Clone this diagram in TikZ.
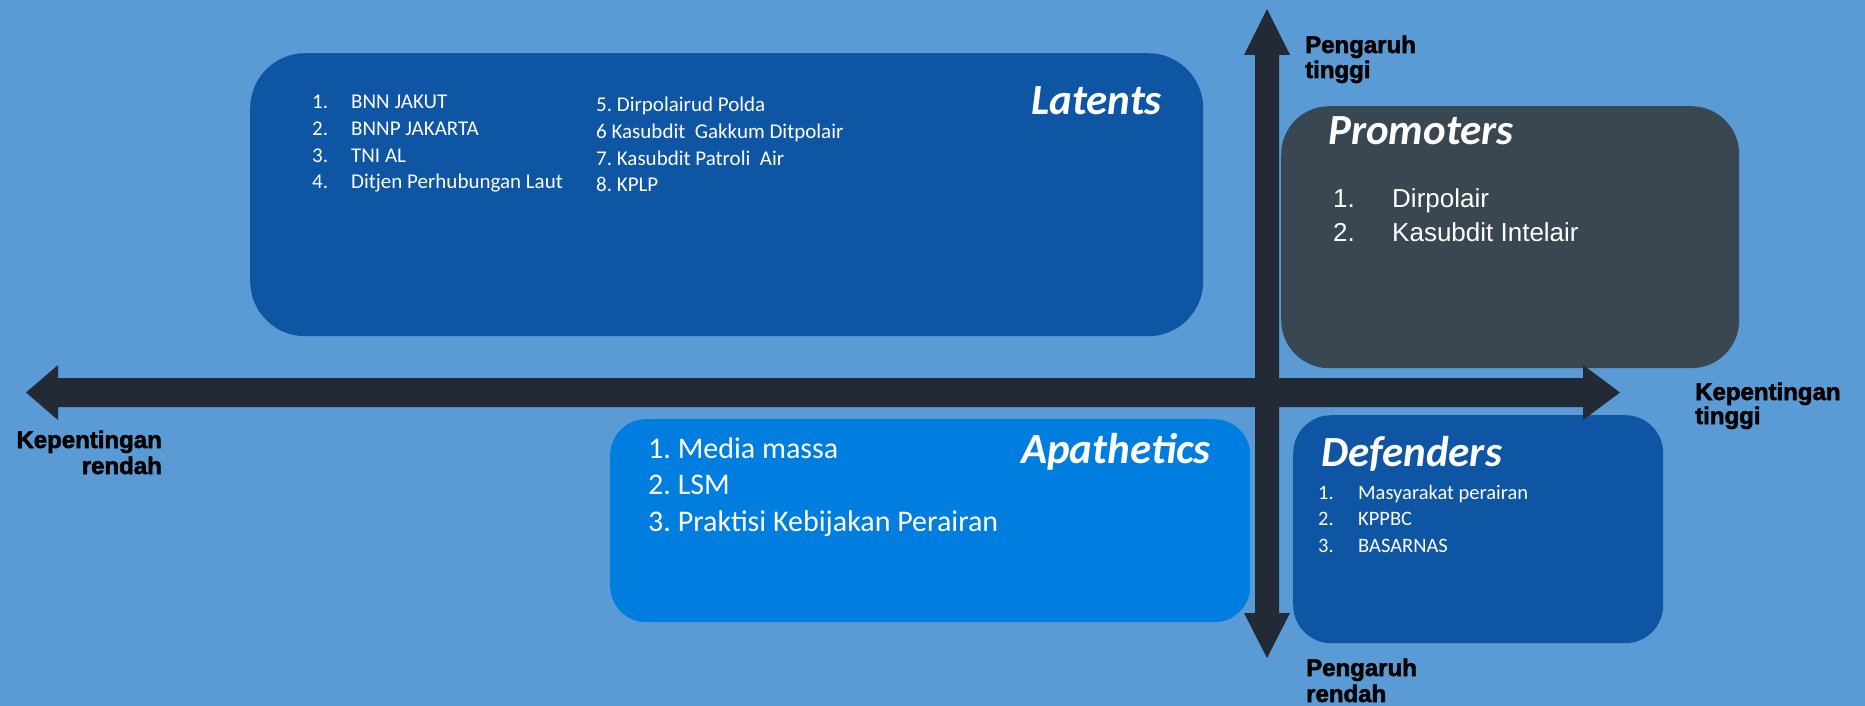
\documentclass[tikz,border=0pt]{standalone}
\usepackage{fontspec}
\setmainfont{Carlito}
\newfontfamily\arialfont{Liberation Sans}
\newfontfamily\axisfont{Liberation Sans Bold}[FakeBold=2.2]
\definecolor{bgblue}{RGB}{91,155,213}
\definecolor{darkblue}{RGB}{14,86,163}
\definecolor{slate}{RGB}{56,71,82}
\definecolor{brightblue}{RGB}{0,126,224}
\definecolor{axisc}{RGB}{34,42,53}
\frenchspacing
\begin{document}
\begin{tikzpicture}[x=1pt,y=-1pt,
  box/.style={rectangle, rounded corners=#1, draw=none, inner sep=0pt, anchor=north west},
  title/.style={anchor=base west, inner sep=0pt, text=white, font=\fontsize{43}{50}\selectfont\bfseries\itshape},
  litem/.style={anchor=base west, inner sep=0pt, text=white, font=\frenchspacing\fontsize{21}{25}\selectfont},
  pitem/.style={anchor=base west, inner sep=0pt, text=white, font=\arialfont\fontsize{26}{30}\selectfont},
  aitem/.style={anchor=base west, inner sep=0pt, text=white, font=\frenchspacing\fontsize{30}{36}\selectfont},
  ditem/.style={anchor=base west, inner sep=0pt, text=white, font=\fontsize{20.5}{25}\selectfont},
  axislbl/.style={inner sep=0pt, text=black, font=\axisfont\fontsize{24}{26}\selectfont}]
\fill[bgblue] (0,0) rectangle (1865,706);
\useasboundingbox (0,0) rectangle (1865,706);

% boxes
\node[box=55pt, fill=darkblue, minimum width=953pt, minimum height=283pt] (latents) at (250,53) {};
\node[box=48pt, fill=slate, minimum width=458pt, minimum height=262pt] (promoters) at (1281,106) {};
\node[box=36pt, fill=brightblue, minimum width=640pt, minimum height=203pt] (apathetics) at (610,419) {};
\node[box=38pt, fill=darkblue, minimum width=370pt, minimum height=228pt] (defenders) at (1293,415) {};

% axes
\fill[axisc] (1267,9) -- (1290,55) -- (1279,55) -- (1279,613) -- (1290,613) -- (1267,658)
  -- (1244,613) -- (1255,613) -- (1255,55) -- (1244,55) -- cycle;
\fill[axisc] (26,392.5) -- (58,365) -- (58,378) -- (1583,378) -- (1583,365) -- (1620,392.5)
  -- (1583,420) -- (1583,407) -- (58,407) -- (58,420) -- cycle;

% titles
\node[title] (tlat) at (1031,115) {Latents};
\node[title] (tpro) at (1328,145) {Promoters};
\node[title] (tapa) at (1021,463) {Apathetics};
\node[title] (tdef) at (1321,466) {Defenders};

% Latents list
\foreach \n/\t/\y in {1/BNN JAKUT/109, 2/BNNP JAKARTA/135.5, 3/TNI AL/162, 4/Ditjen Perhubungan Laut/188}{
  \node[litem] (latn\n) at (312,\y) {\n.};
  \node[litem] (latt\n) at (351,\y) {\t};
}
\foreach \n/\t/\y in {5/5. Dirpolairud Polda/112, 6/6 Kasubdit\ \ Gakkum Ditpolair/138.5, 7/7. Kasubdit Patroli\ \ Air/165, 8/8. KPLP/191.5}{
  \node[litem] (latt\n) at (596,\y) {\t};
}

% Promoters list
\node[pitem] (pron1) at (1333,207) {1.};
\node[pitem] (prot1) at (1392,207) {Dirpolair};
\node[pitem] (pron2) at (1333,241) {2.};
\node[pitem] (prot2) at (1392,241) {Kasubdit Intelair};

% Apathetics list
\node[aitem] (apa1) at (648,458) {1. Media massa};
\node[aitem] (apa2) at (648,494.5) {2. LSM};
\node[aitem] (apa3) at (648,531) {3. Praktisi Kebijakan Perairan};

% Defenders list
\foreach \n/\t/\y in {1/Masyarakat perairan/499, 2/KPPBC/525.5, 3/BASARNAS/552}{
  \node[ditem] (defn\n) at (1318,\y) {\n.};
  \node[ditem] (deft\n) at (1358,\y) {\t};
}

% axis labels
\node[axislbl, anchor=base west] (pt1) at (1305,53) {Pengaruh};
\node[axislbl, anchor=base west] (pt2) at (1305,78) {tinggi};
\node[axislbl, anchor=base west] (pr1) at (1306,676) {Pengaruh};
\node[axislbl, anchor=base west] (pr2) at (1306,702) {rendah};
\node[axislbl, anchor=base west] (kt1) at (1695,400) {Kepentingan};
\node[axislbl, anchor=base west] (kt2) at (1695,424) {tinggi};
\node[axislbl, anchor=base east] (kr1) at (162,448) {Kepentingan};
\node[axislbl, anchor=base east] (kr2) at (162,474) {rendah};
\end{tikzpicture}
\end{document}
